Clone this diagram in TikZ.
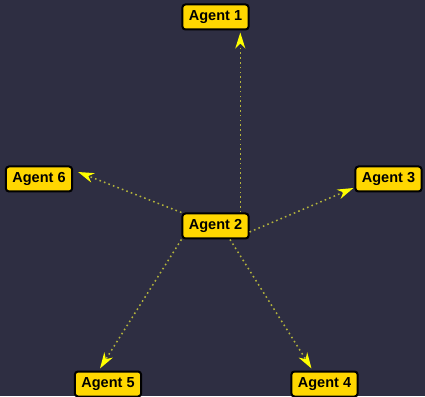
\documentclass[tikz,border=0pt]{standalone}
\usepackage{fontspec}
\setmainfont{Liberation Sans}
\usetikzlibrary{arrows.meta}

\definecolor{bgnavy}{HTML}{2E2E42}
\definecolor{agentgold}{HTML}{FFD700}
\definecolor{linkolive}{RGB}{180,180,60}
\definecolor{tipyellow}{HTML}{FFFF00}

\begin{document}
\begin{tikzpicture}[
  x=1pt, y=1pt,
  every node/.style={font=\fontsize{14.5}{16}\selectfont\bfseries},
  agent/.style={draw=black, line width=2pt, fill=agentgold, rounded corners=3pt,
    minimum height=25pt, inner xsep=6.5pt, inner ysep=0pt, text=black},
  link/.style={linkolive, line width=1.5pt, dash pattern=on 1.6pt off 3.2pt,
    -{Stealth[length=16pt, width=10pt, inset=5pt, color=tipyellow]}},
]

% ---- Background (fixes the page size) ----
\fill[bgnavy] (0,0) rectangle (425,396);
\useasboundingbox (0,0) rectangle (425,396);

% ---- Agents (y measured upward) ----
\node[agent] (a2) at (215.5, 170) {Agent 2};
\node[agent] (a1) at (215.5, 379) {Agent 1};
\node[agent] (a3) at (388.5, 217) {Agent 3};
\node[agent] (a4) at (324.5, 12)  {Agent 4};
\node[agent] (a5) at (108, 12)    {Agent 5};
\node[agent] (a6) at (39, 217)    {Agent 6};

% ---- Links from the central agent ----
\draw[link] ([xshift=24.8pt]a2.north)  -- ([shift={(24.8pt,-2pt)}]a1.south);
\draw[link] ([yshift=-6pt]a2.east)     -- ([shift={(-1pt,-9pt)}]a3.west);
\draw[link] ([xshift=14.5pt]a2.south)  -- ([shift={(-13pt,2pt)}]a4.north);
\draw[link] (a2.south west)            -- ([shift={(-8pt,2pt)}]a5.north);
\draw[link] (a2.north west)            -- ([shift={(5pt,7pt)}]a6.east);

\end{tikzpicture}
\end{document}
